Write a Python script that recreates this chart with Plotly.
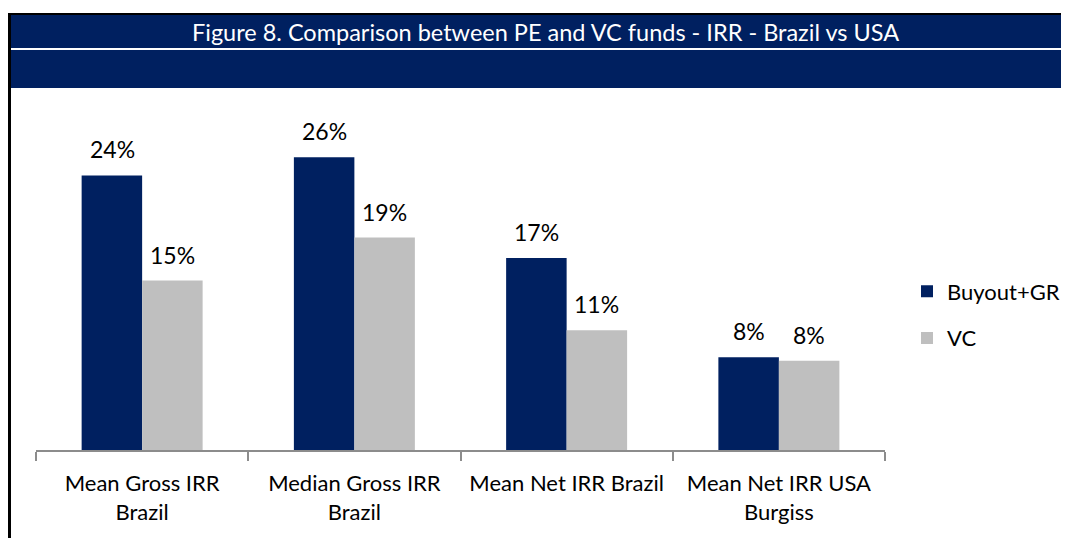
import plotly.graph_objects as go

categories = ["Mean Gross IRR<br>Brazil", "Median Gross IRR<br>Brazil",
              "Mean Net IRR Brazil", "Mean Net IRR USA<br>Burgiss"]
buyout_gr = [0.243, 0.259, 0.170, 0.082]
vc = [0.150, 0.188, 0.106, 0.079]

NAVY = "#002060"
GREY = "#BFBFBF"
FONT = "Lato, 'Open Sans', sans-serif"

# page body has an 8px margin, so the figure is drawn 8px in from the corner
OFF = 8
W, H = 1069 - OFF, 538 - OFF
L, R, T, B = 36 - OFF, 1069 - 885, 111 - OFF, 538 - 450


def px_x(x):
    # reference-screen x -> paper coords
    return (x - OFF - L) / (W - L - R)


def px_y(y):
    return (H - B - (y - OFF)) / (H - T - B)


fig = go.Figure()
fig.add_trace(go.Bar(x=categories, y=buyout_gr, name="Buyout+GR",
                     marker=dict(color=NAVY, line=dict(width=0)),
                     legendgroup="a", hoverinfo="skip"))
fig.add_trace(go.Bar(x=categories, y=vc, name="VC",
                     marker=dict(color=GREY, line=dict(width=0)),
                     legendgroup="b", hoverinfo="skip"))

# value labels above the bars
for series, shift in ((buyout_gr, -30), (vc, 30)):
    for cat, v in zip(categories, series):
        fig.add_annotation(x=cat, y=v, text=f"{round(v * 100)}%",
                           xref="x", yref="y", xshift=shift, yshift=10,
                           yanchor="bottom", showarrow=False,
                           font=dict(size=23, color="black", family=FONT))

# header band
shapes = [
    dict(type="rect", xref="paper", yref="paper",
         x0=px_x(8), x1=px_x(1069), y0=px_y(15), y1=px_y(13),
         fillcolor="black", line=dict(width=0), layer="above"),
    dict(type="rect", xref="paper", yref="paper",
         x0=px_x(11), x1=px_x(1069), y0=px_y(48), y1=px_y(15),
         fillcolor=NAVY, line=dict(width=0), layer="above"),
    dict(type="rect", xref="paper", yref="paper",
         x0=px_x(11), x1=px_x(1069), y0=px_y(88), y1=px_y(50),
         fillcolor=NAVY, line=dict(width=0), layer="above"),
    dict(type="rect", xref="paper", yref="paper",
         x0=px_x(8), x1=px_x(11), y0=px_y(540), y1=px_y(13),
         fillcolor="black", line=dict(width=0), layer="above"),
]

fig.add_annotation(x=px_x(545), y=px_y(32), xref="paper", yref="paper",
                   text="Figure 8. Comparison between PE and VC funds - IRR - Brazil vs USA",
                   showarrow=False, xanchor="center", yanchor="middle",
                   font=dict(size=23.5, color="white", family=FONT))

fig.update_layout(
    width=W, height=H,
    margin=dict(l=L, r=R, t=T, b=B, autoexpand=False),
    paper_bgcolor="white", plot_bgcolor="white",
    barmode="group", bargap=0.43, bargroupgap=0,
    shapes=shapes,
    font=dict(family=FONT, size=22, color="black"),
    xaxis=dict(showline=True, linecolor="#8C8C8C", linewidth=2,
               ticks="outside", tickson="boundaries", ticklen=9,
               tickcolor="#8C8C8C", tickwidth=2, showgrid=False,
               ticklabelstandoff=13,
               tickfont=dict(size=22, color="black", family=FONT),
               range=[-0.5, 3.5]),
    yaxis=dict(visible=False, range=[0, 0.30]),
    legend=dict(x=px_x(907), y=px_y(315), xref="paper", yref="paper",
                xanchor="left", yanchor="middle",
                font=dict(size=22, color="black", family=FONT),
                tracegroupgap=15, traceorder="grouped",
                itemwidth=30, bgcolor="rgba(0,0,0,0)"),
    showlegend=True,
)

fig.write_html("out.html")
